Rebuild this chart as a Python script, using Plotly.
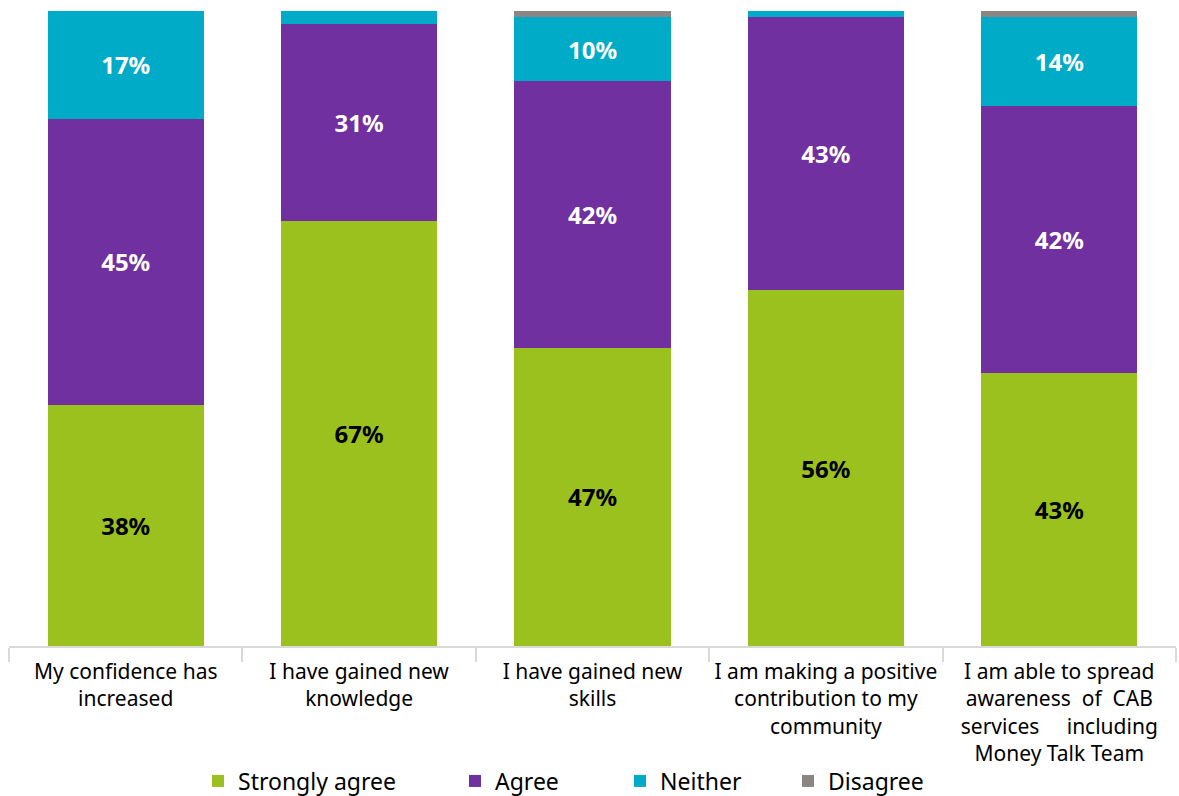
import plotly.graph_objects as go

categories = [
    "My confidence has<br>increased",
    "I have gained new<br>knowledge",
    "I have gained new<br>skills",
    "I am making a positive<br>contribution to my<br>community",
    "I am able to spread<br>awareness  of  CAB<br>services     including<br>Money Talk Team",
]
strongly_agree = [38, 67, 47, 56, 43]
agree = [45, 31, 42, 43, 42]
neither = [17, 2, 10, 1, 14]
disagree = [0, 0, 1, 0, 1]

series = [
    ("Strongly agree", strongly_agree, "#9BC11E", "#000000", "legend", 216),
    ("Agree", agree, "#7030A0", "#FFFFFF", "legend2", 473),
    ("Neither", neither, "#00ABC7", "#FFFFFF", "legend3", 638),
    ("Disagree", disagree, "#8C8682", "#FFFFFF", "legend4", 806),
]

fig = go.Figure()
legends = {}
for name, vals, color, tcolor, leg, lx in series:
    fig.add_trace(go.Bar(
        x=categories,
        y=vals,
        name=name,
        legend=leg,
        marker=dict(color=color, line=dict(width=0)),
        text=[f"{v}%" if v >= 10 else "" for v in vals],
        textposition="inside",
        insidetextanchor="middle",
        textangle=0,
        textfont=dict(family="Noto Sans", size=24, color=tcolor, weight="bold"),
        hoverinfo="skip",
    ))
    legends[leg] = dict(
        orientation="h",
        xref="container",
        yref="container",
        x=(lx - 18) / 1179,
        xanchor="left",
        y=1 - 781 / 796,
        yanchor="middle",
        font=dict(family="Noto Sans", size=23, color="#000000"),
        itemwidth=30,
        bgcolor="rgba(0,0,0,0)",
    )

fig.update_layout(
    barmode="stack",
    bargap=0.33,
    width=1179,
    height=796,
    margin=dict(l=9, r=3, t=11, b=150, autoexpand=False),
    paper_bgcolor="white",
    plot_bgcolor="white",
    font=dict(family="Noto Sans", color="#000000"),
    uniformtext=dict(mode="show", minsize=10),
    xaxis=dict(
        automargin=False,
        showline=True,
        linecolor="#D9D9D9",
        linewidth=1.5,
        ticks="outside",
        tickson="boundaries",
        ticklen=14,
        tickcolor="#D9D9D9",
        tickwidth=1.5,
        ticklabelstandoff=6,
        tickfont=dict(family="Noto Sans", size=21, color="#000000"),
    ),
    yaxis=dict(range=[0, 100], visible=False, showgrid=False),
    showlegend=True,
    **legends,
)

fig.write_html("out.html")
